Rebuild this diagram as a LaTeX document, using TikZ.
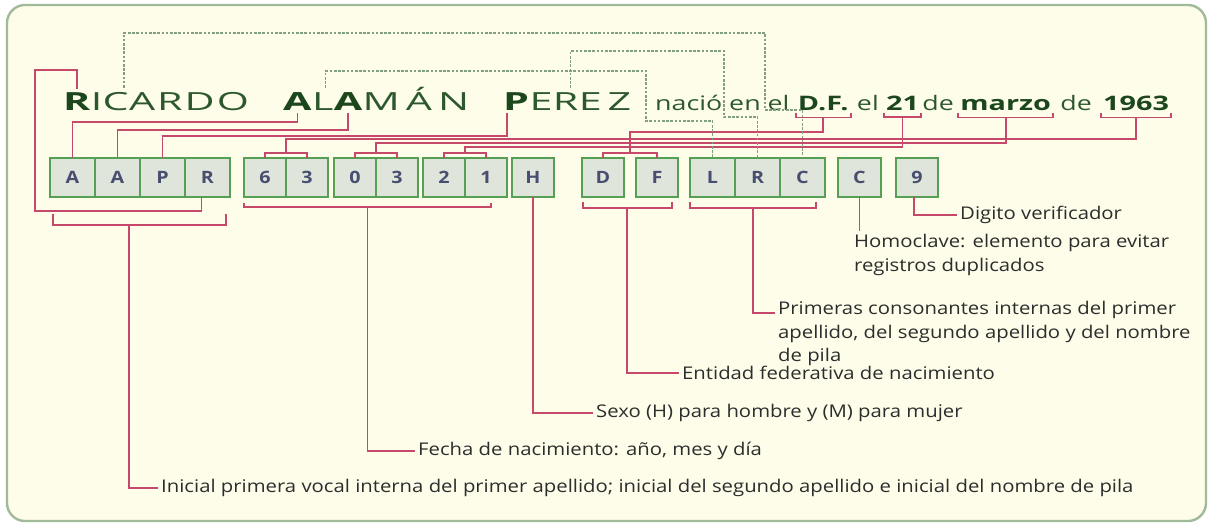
\documentclass[tikz,border=0pt]{standalone}
\usepackage{fontspec}
\setmainfont{Open Sans}[FakeStretch=1.16]
\newfontfamily\fnombre[FakeStretch=1.65,LetterSpace=8]{Open Sans}
\newfontfamily\fnombreb[FakeStretch=1.65,LetterSpace=24]{Open Sans}
\newfontfamily\ftexto[FakeStretch=1.34]{Open Sans}
\newfontfamily\ftextob[FakeStretch=1.44]{Open Sans}
\usetikzlibrary{positioning,calc}

\definecolor{fondo}{RGB}{254,253,234}
\definecolor{marco}{RGB}{160,186,154}
\definecolor{rojo}{RGB}{198,72,106}
\definecolor{punto}{RGB}{128,160,128}
\definecolor{bordecaja}{RGB}{86,160,86}
\definecolor{rellenocaja}{RGB}{223,229,218}
\definecolor{letracaja}{RGB}{72,78,112}
\definecolor{verdeosc}{RGB}{28,70,28}
\definecolor{verdetxt}{RGB}{45,88,45}
\definecolor{gristxt}{RGB}{45,45,45}

\begin{document}
\begin{tikzpicture}[x=1pt,y=-1pt]
  \tikzstyle{caja}=[draw=bordecaja,fill=rellenocaja,line width=1.6pt,minimum width=42pt,
                    minimum height=39pt,inner sep=0pt,outer sep=0pt,text=letracaja,
                    font=\fontsize{17}{17}\selectfont\bfseries]
  \tikzstyle{ancha}=[caja,minimum width=45pt]
  \tikzstyle{linea}=[draw=rojo,line width=1.7pt]
  \tikzstyle{punteado}=[draw=punto,line width=1.4pt,dash pattern=on 2.6pt off 1.6pt]
  \tikzstyle{nom}=[inner sep=0pt,anchor=base west,text=verdetxt,font=\fnombre\fontsize{25}{25}\selectfont]
  \tikzstyle{nomb}=[nom,text=verdeosc,font=\fnombre\fontsize{25}{25}\selectfont\bfseries]
  \tikzstyle{ape}=[nom,font=\fnombreb\fontsize{25}{25}\selectfont]
  \tikzstyle{apeb}=[nom,text=verdeosc,font=\fnombreb\fontsize{25}{25}\selectfont\bfseries]
  \tikzstyle{txt}=[inner sep=0pt,anchor=base west,text=verdetxt,font=\ftexto\fontsize{20}{20}\selectfont]
  \tikzstyle{txtb}=[txt,text=verdeosc,font=\ftextob\fontsize{20}{20}\selectfont\bfseries]
  \tikzstyle{etiqueta}=[anchor=west,inner sep=3pt,text=gristxt,align=left,
                        font=\fontsize{17.5}{23.5}\selectfont]

  \useasboundingbox (0,0) rectangle (1209,525);
  \draw[marco,fill=fondo,line width=2.4pt,rounded corners=18pt] (7,5) rectangle (1206,521);

  % nombre
  \node[nomb] (lR) at (63,110) {R};
  \node[nom, base right=0pt of lR] (lI) {I};
  \node[nom, base right=0pt of lI] (lC) {C};
  \node[nom, base right=0pt of lC] (lARDO) {ARDO};
  \node[apeb] (lA1) at (283,110) {A};
  \node[ape, base right=0pt of lA1] (lL) {L};
  \node[apeb, base right=0pt of lL] (lA2) {A};
  \node[ape, base right=0pt of lA2] (lMAN) {MÁN};
  \node[apeb] (lP) at (503,110) {P};
  \node[ape, base right=0pt of lP] (lE) {E};
  \node[ape, base right=0pt of lE] (lR2) {R};
  \node[ape, base right=0pt of lR2] (lEZ) {EZ};

  \node[txt] (wNacio) at (655,110) {nació en el};
  \node[txtb, base right=8pt of wNacio] (wDF) {D.F.};
  \node[txt, base right=8pt of wDF] (wEl) {el};
  \node[txtb, base right=7pt of wEl] (w21) {21};
  \node[txt, base right=3pt of w21] (wDe) {de};
  \node[txtb, base right=6pt of wDe] (wMarzo) {marzo};
  \node[txt, base right=9pt of wMarzo] (wDe2) {de};
  \node[txtb, base right=11pt of wDe2] (w1963) {1963};

  % cajas
  \node[ancha] (cA1) at (72.5,177.5) {A};
  \node[ancha, right=0pt of cA1] (cA2) {A};
  \node[ancha, right=0pt of cA2] (cP) {P};
  \node[ancha, right=0pt of cP] (cR) {R};
  \node[caja, right=14pt of cR] (c6) {6};
  \node[caja, right=0pt of c6] (c3) {3};
  \node[caja, right=6pt of c3] (c0) {0};
  \node[caja, right=0pt of c0] (c3b) {3};
  \node[caja, right=5pt of c3b] (c2) {2};
  \node[caja, right=0pt of c2] (c1) {1};
  \node[caja, right=5pt of c1] (cH) {H};
  \node[caja, right=28pt of cH] (cD) {D};
  \node[caja, right=12pt of cD] (cF) {F};
  \node[ancha, right=12pt of cF] (cL) {L};
  \node[ancha, right=0pt of cL] (cR2) {R};
  \node[ancha, right=0pt of cR2] (cC) {C};
  \node[caja, right=13pt of cC, minimum width=43pt] (cC2) {C};
  \node[caja, right=15pt of cC2] (c9) {9};

  % etiquetas
  \node[etiqueta] (tInicial) at (158,488) {Inicial primera vocal interna del primer apellido; inicial del segundo apellido e inicial del nombre de pila};
  \node[etiqueta] (tFecha) at (415,451) {Fecha de nacimiento: año, mes y día};
  \node[etiqueta] (tSexo) at (593,413) {Sexo (H) para hombre y (M) para mujer};
  \node[etiqueta] (tEntidad) at (679,373) {Entidad federativa de nacimiento};
  \node[etiqueta,anchor=north west] (tPrimeras) at (775,298) {Primeras consonantes internas del primer\\apellido, del segundo apellido y del nombre\\de pila};
  \node[etiqueta,anchor=north west] (tHomo) at (851,231) {Homoclave: elemento para evitar\\registros duplicados};
  \node[etiqueta] (tDigito) at (957,215) {Digito verificador};

  % puntos de las llaves
  \coordinate (m63) at ($(c6.north)!.5!(c3.north)+(0,-5)$);
  \coordinate (m03) at ($(c0.north)!.5!(c3b.north)+(0,-5)$);
  \coordinate (m21) at ($(c2.north)!.5!(c1.north)+(0,-5)$);
  \coordinate (mDF) at ($(cD.north)!.5!(cF.north)+(0,-5)$);
  \coordinate (bAAPR) at ($(cA1.south west)!.44!(cR.south east)+(0,28)$);
  \coordinate (bDig) at ($(c6.south west)!.5!([xshift=-16pt]c1.south east)+(0,10)$);
  \coordinate (bDF) at ($(cD.south west)!.5!([xshift=-6pt]cF.south east)+(0,11)$);
  \coordinate (bLRC) at ($(cL.south west)!.5!([xshift=-9pt]cC.south east)+(0,11)$);

  % llaves
  \draw[linea] (c6.north) |- (m63) -| (c3.north);
  \draw[linea] (c0.north) |- (m03) -| (c3b.north);
  \draw[linea] (c2.north) |- (m21) -| (c1.north);
  \draw[linea] (cD.north) |- (mDF) -| (cF.north);
  \draw[linea] ([shift={(3,17)}]cA1.south west) |- (bAAPR) -| ([shift={(-4,17)}]cR.south east);
  \draw[linea] ([shift={(0,6)}]c6.south west) |- (bDig) -| ([shift={(-16,6)}]c1.south east);
  \draw[linea] ([shift={(1,5)}]cD.south west) |- (bDF) -| ([shift={(-6,5)}]cF.south east);
  \draw[linea] ([shift={(0,5)}]cL.south west) |- (bLRC) -| ([shift={(-9,5)}]cC.south east);
  \foreach \w in {wDF,w21,wMarzo,w1963}
    \draw[linea] ([shift={(-2,3)}]\w.south west) -- ++(0,4) -| ([shift={(2,3)}]\w.south east);

  % lineas rojas
  \draw[linea] ([yshift=3pt]lR.north) |- (35,70) -- (35,211) -| ([xshift=-6pt]cR.south);
  \draw[linea] ([yshift=-3pt]lA1.south) -- (lA1.south |- 0,122) -| (cA1.north);
  \draw[linea] ([yshift=-3pt]lA2.south) -- (lA2.south |- 0,130) -| (cA2.north);
  \draw[linea] ([shift={(4,3)}]lP.south west) -- ([xshift=4pt]lP.south west |- 0,136) -| (cP.north);
  \draw[linea] (wDF.south |- 0,117) |- (mDF |- 0,132) -- (mDF);
  \draw[linea] (w1963.south |- 0,117) |- (m63 |- 0,139) -- (m63);
  \draw[linea] (wMarzo.south |- 0,117) |- (m03 |- 0,143) -- (m03);
  \draw[linea] (w21.south |- 0,117) |- (m21 |- 0,147) -- (m21);

  \draw[linea] (bAAPR) |- (tInicial.west);
  \draw[linea] (bDig) |- (tFecha.west);
  \draw[linea] (cH.south) |- (tSexo.west);
  \draw[linea] (bDF) |- (tEntidad.west);
  \draw[linea] (bLRC) |- ([yshift=-15pt]tPrimeras.north west);
  \draw[linea] (cC2.south) -- (cC2.south |- tHomo.north);
  \draw[linea] ([xshift=-3pt]c9.south) |- (tDigito.west);

  % lineas punteadas
  \draw[punteado] ([shift={(-5,-4)}]lC.north east) |- (765,33) -- (765,110) -| (cC.north);
  \draw[punteado] ([shift={(-8,-4)}]lR2.north east) |- (724,51) -- (724,117) -| (cR2.north);
  \draw[punteado] ([shift={(-8,-4)}]lL.north east) |- (646,71) -- (646,121) -| (cL.north);
\end{tikzpicture}
\end{document}
